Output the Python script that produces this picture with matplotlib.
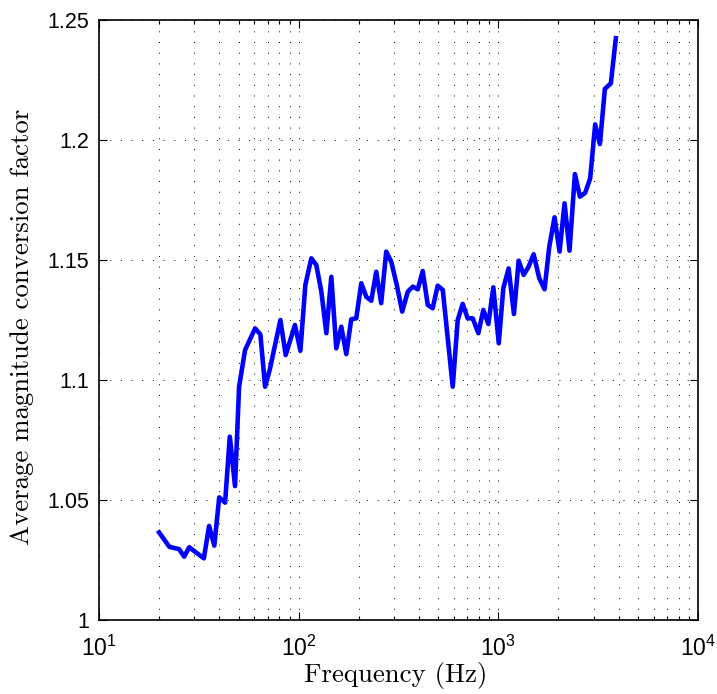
import matplotlib
matplotlib.use("Agg")
import matplotlib.pyplot as plt
from matplotlib.ticker import LogLocator, NullFormatter

plt.rcParams['font.family'] = ['Liberation Sans', 'DejaVu Sans']

# average conversion factor per 1/12-octave band
freq_hz = [20, 22.5, 25.2, 26.7, 28.3, 33.5, 35.6, 37.8, 40, 42.8,
           45.2, 48, 50.3, 53.9, 60.5, 64.3, 67.9, 71.6, 81, 86.1,
           95.8, 102, 108, 115.7, 122.6, 129.9, 137.6, 145.7, 154.3, 163.5,
           173.2, 183.4, 194.3, 205.8, 218, 231, 244.6, 259, 274.5, 290.8,
           310, 330, 352, 373, 395, 418, 443, 469, 497, 527,
           591, 626, 663, 702, 744, 794, 841, 891, 944, 1005,
           1059, 1126, 1197, 1264, 1339, 1418, 1502, 1603, 1704, 1799,
           1912, 2026, 2146, 2273, 2418, 2562, 2723, 2884, 3055, 3226,
           3417, 3660, 3877]
conv_factor = [1.0365, 1.0305, 1.0295, 1.0264, 1.0303, 1.0257, 1.0392, 1.031, 1.0511, 1.0489,
               1.0764, 1.0558, 1.0972, 1.1125, 1.1215, 1.119, 1.0972, 1.1042, 1.125, 1.1104,
               1.1229, 1.1122, 1.1396, 1.1507, 1.1479, 1.1368, 1.1195, 1.143, 1.1132, 1.1222,
               1.1108, 1.1253, 1.1257, 1.1403, 1.1347, 1.133, 1.1451, 1.132, 1.1535, 1.1493,
               1.1396, 1.1285, 1.1368, 1.1389, 1.1378, 1.1454, 1.1313, 1.1299, 1.1393, 1.1375,
               1.0972, 1.125, 1.1317, 1.1257, 1.1257, 1.1195, 1.1292, 1.1233, 1.1386, 1.1153,
               1.1382, 1.1465, 1.1275, 1.1497, 1.1438, 1.1472, 1.1524, 1.1424, 1.1378, 1.1555,
               1.1678, 1.1535, 1.1736, 1.1539, 1.1858, 1.1764, 1.178, 1.184, 1.2065, 1.1983,
               1.2213, 1.2236, 1.2424]

y_ticks = [1, 1.05, 1.1, 1.15, 1.2, 1.25]
y_ticklabels = ['1', '1.05', '1.1', '1.15', '1.2', '1.25']

fig = plt.figure(figsize=(7.17, 6.94), dpi=100)
ax = fig.add_axes([99 / 717, 74 / 694, 599 / 717, 600 / 694])

ax.plot(freq_hz, conv_factor, color=(0, 0, 1), linewidth=3.3, zorder=3)

ax.set_xscale('log')
ax.set_xlim(10, 1e4)
ax.set_ylim(1, 1.25)
ax.set_yticks(y_ticks)
ax.set_yticklabels(y_ticklabels)
ax.xaxis.set_minor_locator(LogLocator(base=10, subs=range(2, 10)))
ax.xaxis.set_minor_formatter(NullFormatter())

# dotted grid like matlab's ':' style
grid_kw = dict(color='black', linestyle=(0, (1, 10)), linewidth=0.7)
ax.grid(True, which='major', axis='both', **grid_kw)
ax.grid(True, which='minor', axis='x', **grid_kw)

ax.tick_params(which='both', direction='in', top=True, right=True, labelsize=15.5, width=0.8)
ax.tick_params(which='major', length=6)
ax.tick_params(which='minor', length=3)
ax.tick_params(axis='x', pad=11, labelsize=16.5)
ax.tick_params(axis='y', pad=7)
for s in ax.spines.values():
    s.set_linewidth(1.2)

ax.set_xlabel('Frequency (Hz)', fontfamily='cmr10', fontsize=19.3)
ax.set_ylabel('Average magnitude conversion factor', fontfamily='cmr10', fontsize=19.3)
ax.xaxis.set_label_coords(0.496, -0.07)
ax.yaxis.set_label_coords(-0.108, 0.488)

fig.savefig('out.png', dpi=100)
